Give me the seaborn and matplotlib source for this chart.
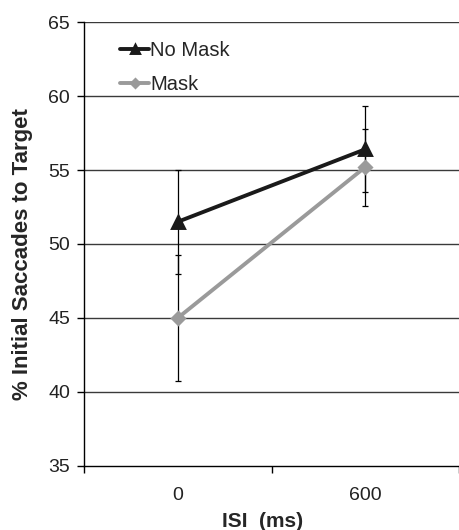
import numpy as np
import pandas as pd
import seaborn as sns
import matplotlib
matplotlib.use("Agg")
import matplotlib.pyplot as plt

# data
isi = ["0", "600"]
no_mask = [51.5, 56.4]
no_mask_err = [3.5, 2.9]
mask = [45.0, 55.2]
mask_err = [4.25, 2.6]

df = pd.DataFrame({
    "ISI": isi * 2,
    "pct": no_mask + mask,
    "cond": ["No Mask"] * 2 + ["Mask"] * 2,
})

sns.set_style("white")
plt.rcParams["font.family"] = ["Liberation Sans", "DejaVu Sans"]

fig = plt.figure(figsize=(4.59, 5.30), dpi=100)
ax = fig.add_axes([84 / 459, 64 / 530, 375 / 459, 444 / 530])

# gridlines first so lines sit on top
for v in range(40, 70, 5):
    ax.axhline(v, color="#3a3a3a", lw=1.0, zorder=0)

# error bars (black, thin)
ax.errorbar([0, 1], no_mask, yerr=no_mask_err, fmt="none", ecolor="black",
            elinewidth=0.9, capsize=2.3, capthick=0.9, zorder=2)
ax.errorbar([0, 1], mask, yerr=mask_err, fmt="none", ecolor="black",
            elinewidth=0.9, capsize=2.3, capthick=0.9, zorder=2)

sns.pointplot(data=df, x="ISI", y="pct", hue="cond", order=isi,
              hue_order=["No Mask", "Mask"],
              palette={"No Mask": "#1a1a1a", "Mask": "#9a9a9a"},
              markers=["^", "D"], linestyles=["-", "-"], errorbar=None,
              markersize=8, linewidth=2.8, ax=ax, zorder=3)

# tweak marker sizes separately
for ln in ax.get_lines():
    if ln.get_marker() == "D":
        ln.set_markersize(6)
    elif ln.get_marker() == "^":
        ln.set_markersize(9)

ax.set_ylim(35, 65)
ax.set_xlim(-0.5, 1.5)
ax.set_yticks(range(35, 70, 5))
ax.set_xticks([0, 1])
ax.set_xticklabels(isi)
ax.set_xticks([-0.5, 0.5, 1.5], minor=True)
ax.tick_params(axis="x", which="major", length=0, pad=15, labelsize=14)
ax.tick_params(axis="x", which="minor", length=5, width=1, direction="out",
               color="black", bottom=True)
ax.tick_params(axis="y", length=5, width=1, direction="out", color="black",
               left=True, pad=5, labelsize=14)
for lab in ax.get_xticklabels() + ax.get_yticklabels():
    lab.set_color("#222222")

for s in ["top", "right"]:
    ax.spines[s].set_visible(False)
for s in ["left", "bottom"]:
    ax.spines[s].set_color("black")
    ax.spines[s].set_linewidth(1.0)

ax.set_xlabel("ISI  (ms)", fontsize=15, fontweight="bold")
ax.xaxis.set_label_coords(0.477, -0.103)
ax.set_ylabel("% Initial Saccades to Target", fontsize=16, fontweight="bold")
ax.yaxis.set_label_coords(-0.135, 0.477)

leg = ax.legend(loc="upper left", bbox_to_anchor=(0.075, 0.975), frameon=False,
                fontsize=14.5, handlelength=1.45, handletextpad=0.05,
                labelspacing=0.75, borderaxespad=0)
for h in leg.legend_handles:
    h.set_markersize(6 if h.get_marker() == "^" else 4.5)

fig.savefig("out.png", dpi=100)
